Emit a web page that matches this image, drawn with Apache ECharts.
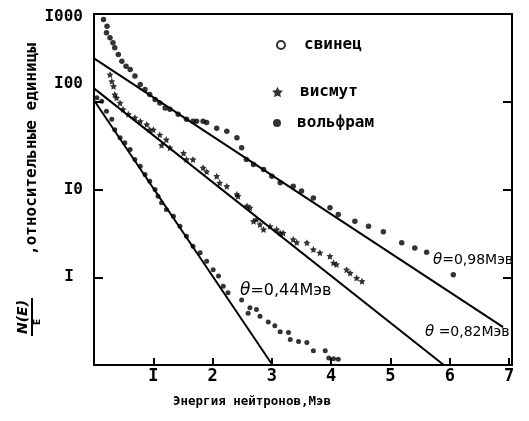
<!DOCTYPE html>
<html>
<head>
<meta charset="utf-8">
<script src="https://cdn.jsdelivr.net/npm/echarts@6/dist/echarts.min.js"></script>
<style>
html, body { margin: 0; padding: 0; background: #fff; }
#chartBox { width: 529px; height: 421px; }
</style>
</head>
<body>
<div id="chartBox"></div>
<script>
const INK = '#000'
const MONO = "'DejaVu Sans Mono', monospace"
const SANS = "'DejaVu Sans', sans-serif"

const xTicks = [1, 2, 3, 4, 5, 6, 7]
const xTickText = ['I', '2', '3', '4', '5', '6', '7']
const yTicks = [1, 10, 100, 1000]
const yTickText = ['{one|I}', 'I0', '{up|I00}', '{dn|I000}']

// [E, Мэв ; N(E)/E, отн. ед.]
const tungsten = [
  [0.16, 865], [0.21, 611], [0.22, 726], [0.27, 536], [0.32, 470], [0.35, 412],
  [0.41, 345], [0.47, 290], [0.54, 254], [0.61, 233], [0.69, 196], [0.78, 157],
  [0.86, 138], [0.94, 121], [1.03, 106], [1.11, 97], [1.2, 85], [1.28, 82],
  [1.42, 72], [1.56, 63], [1.67, 60], [1.73, 60], [1.84, 60], [1.9, 58],
  [2.07, 50], [2.24, 46], [2.41, 39], [2.49, 30], [2.57, 22], [2.69, 19.3],
  [2.86, 16.9], [3.0, 14.2], [3.14, 11.9], [3.36, 10.9], [3.5, 9.6], [3.7, 8.0],
  [3.98, 6.2], [4.12, 5.2], [4.4, 4.35], [4.63, 3.8], [4.88, 3.3], [5.19, 2.47],
  [5.41, 2.16], [5.61, 1.93], [6.06, 1.07]
]
const bismuth = [
  [0.27, 204], [0.3, 171], [0.33, 150], [0.35, 121], [0.38, 111], [0.44, 97],
  [0.49, 82], [0.58, 72], [0.69, 66], [0.78, 60], [0.89, 55], [0.94, 48],
  [1.0, 48], [1.11, 42], [1.14, 32], [1.22, 37], [1.28, 30], [1.51, 26],
  [1.56, 22], [1.67, 22], [1.84, 17.7], [1.9, 16], [2.07, 14.2], [2.12, 11.9],
  [2.24, 10.9], [2.41, 8.8], [2.43, 8.4], [2.58, 6.5], [2.63, 6.2], [2.69, 4.35],
  [2.74, 4.55], [2.8, 4.0], [2.86, 3.5], [2.97, 3.8], [3.08, 3.5], [3.14, 3.2],
  [3.19, 3.2], [3.36, 2.7], [3.42, 2.5], [3.59, 2.47], [3.7, 2.07], [3.81, 1.9],
  [3.98, 1.74], [4.04, 1.46], [4.09, 1.4], [4.26, 1.22], [4.32, 1.12], [4.43, 0.98],
  [4.52, 0.9]
]
const lead = [
  [0.05, 111], [0.13, 101], [0.21, 78], [0.3, 63], [0.35, 48], [0.44, 39],
  [0.52, 34], [0.61, 28.6], [0.69, 22], [0.78, 18.4], [0.86, 14.8], [0.94, 12.4],
  [1.03, 10], [1.08, 8.4], [1.14, 7.05], [1.22, 5.9], [1.34, 4.96], [1.45, 3.8],
  [1.56, 2.94], [1.67, 2.26], [1.79, 1.9], [1.9, 1.52], [2.01, 1.22], [2.1, 1.03],
  [2.18, 0.79], [2.26, 0.665], [2.49, 0.55], [2.6, 0.39], [2.63, 0.45], [2.74, 0.43],
  [2.8, 0.36], [2.94, 0.31], [3.05, 0.28], [3.14, 0.24], [3.28, 0.235], [3.31, 0.195],
  [3.45, 0.185], [3.59, 0.18], [3.7, 0.145], [3.9, 0.145], [3.96, 0.12], [4.04, 0.118],
  [4.12, 0.116]
]

// straight exponent fits, ends
const fit098 = [[0, 312], [6.9, 0.27]]
const fit082 = [[0, 142], [5.9, 0.1]]
const fit044 = [[0, 104], [3.01, 0.1]]

const STAR = 'path://M0,-10L2.9,-4L9.5,-3.1L4.7,1.5L5.9,8.1L0,5L-5.9,8.1L-4.7,1.5L-9.5,-3.1L-2.9,-4Z'

function xLabel(v) {
  const i = xTicks.findIndex(t => Math.abs(t - v) < 1e-6)
  return i < 0 ? '' : xTickText[i]
}
function yLabel(v) {
  const i = yTicks.findIndex(t => Math.abs(Math.log10(v) - Math.log10(t)) < 1e-6)
  return i < 0 ? '' : yTickText[i]
}

const legendText = {
  color: INK, fontFamily: MONO, fontWeight: 'bold', fontSize: 16, lineHeight: 16
}

function fitLine(data) {
  return {
    type: 'line', data, symbol: 'none', silent: true,
    lineStyle: { color: INK, width: 2 }
  }
}

function thetaNote(text, x, y, size) {
  return {
    type: 'text', x, y, z: 100,
    style: {
      text, fill: INK,
      font: size + "px 'DejaVu Sans', sans-serif",
      rich: { t: { fontStyle: 'italic', fontSize: size + 1, fontFamily: SANS } },
      align: 'left', verticalAlign: 'middle'
    }
  }
}

const option = {
  animation: false,
  backgroundColor: '#fff',
  grid: {
    left: 94, right: 17, top: 14, bottom: 56,
    outerBoundsMode: 'none',
    show: true, borderColor: INK, borderWidth: 2
  },
  legend: [
    {
      data: [{ name: 'свинец', icon: 'emptyCircle' }],
      left: 276, top: 37, padding: 0, itemWidth: 8, itemHeight: 8,
      itemStyle: { borderWidth: 1.5, borderColor: INK },
      textStyle: Object.assign({ padding: [0, 0, 0, 14] }, legendText)
    },
    {
      data: ['висмут'],
      left: 272, top: 84, padding: 0, itemWidth: 11, itemHeight: 11,
      textStyle: Object.assign({ padding: [0, 0, 0, 12] }, legendText)
    },
    {
      data: ['вольфрам'],
      left: 273, top: 115, padding: 0, itemWidth: 8, itemHeight: 8,
      textStyle: Object.assign({ padding: [0, 0, 0, 11] }, legendText)
    }
  ],
  xAxis: {
    type: 'value', min: 0, max: 7.05, interval: 1,
    axisLine: { lineStyle: { color: INK, width: 2 } },
    axisTick: { inside: true, length: 7, lineStyle: { color: INK, width: 2 } },
    splitLine: { show: false },
    axisLabel: {
      formatter: xLabel, margin: 3, color: INK,
      fontFamily: MONO, fontWeight: 'bold', fontSize: 17
    }
  },
  yAxis: [
    {
      type: 'log', min: 0.1, max: 1000, logBase: 10,
      axisLine: { lineStyle: { color: INK, width: 2 } },
      axisTick: { inside: true, length: 9, lineStyle: { color: INK, width: 2 } },
      splitLine: { show: false },
      axisLabel: {
        formatter: yLabel, margin: 11, color: INK,
        fontFamily: MONO, fontWeight: 'bold', fontSize: 16,
        rich: {
          up: { padding: [0, 0, 36, 0] },
          dn: { padding: [6, 0, 0, 0] },
          one: { padding: [0, 9, 0, 0] }
        }
      }
    },
    {
      type: 'log', min: 0.1, max: 1000, logBase: 10, position: 'right',
      axisLine: { lineStyle: { color: INK, width: 2 } },
      axisTick: { inside: true, length: 9, lineStyle: { color: INK, width: 2 } },
      splitLine: { show: false },
      axisLabel: { show: false }
    }
  ],
  series: [
    {
      name: 'свинец', type: 'scatter', data: lead,
      symbol: 'circle', symbolSize: 5,
      itemStyle: { color: INK }
    },
    {
      name: 'висмут', type: 'scatter', data: bismuth,
      symbol: STAR, symbolSize: 7,
      itemStyle: { color: INK }
    },
    {
      name: 'вольфрам', type: 'scatter', data: tungsten,
      symbol: 'circle', symbolSize: 5.5,
      itemStyle: { color: INK }
    },
    fitLine(fit098),
    fitLine(fit082),
    fitLine(fit044)
  ],
  graphic: [
    {
      type: 'text', x: 32, y: 149, rotation: Math.PI / 2,
      style: {
        text: ',относительные единицы', fill: INK,
        font: "bold 16px 'DejaVu Sans Mono', monospace",
        align: 'center', verticalAlign: 'middle'
      }
    },
    {
      type: 'text', x: 23, y: 317, rotation: Math.PI / 2,
      style: {
        text: 'N(E)', fill: INK,
        font: "italic bold 14px 'DejaVu Sans', sans-serif",
        align: 'center', verticalAlign: 'middle'
      }
    },
    {
      type: 'line', shape: { x1: 32, y1: 298, x2: 32, y2: 336 },
      style: { stroke: INK, lineWidth: 2 }
    },
    {
      type: 'text', x: 38, y: 322, rotation: Math.PI / 2,
      style: {
        text: 'E', fill: INK,
        font: "bold 9px 'DejaVu Sans', sans-serif",
        align: 'center', verticalAlign: 'middle'
      }
    },
    {
      type: 'text', x: 173, y: 402,
      style: {
        text: 'Энергия нейтронов,Мэв', fill: INK,
        font: "bold 12.5px 'DejaVu Sans Mono', monospace",
        align: 'left', verticalAlign: 'middle'
      }
    },
    thetaNote('{t|θ}=0,44Мэв', 240, 291, 16),
    thetaNote('{t|θ}=0,98Мэв', 433, 260, 14),
    thetaNote('{t|θ} =0,82Мэв', 425, 332, 14)
  ]
}

const chart = echarts.init(document.getElementById('chartBox'))
chart.setOption(option)
</script>
</body>
</html>
